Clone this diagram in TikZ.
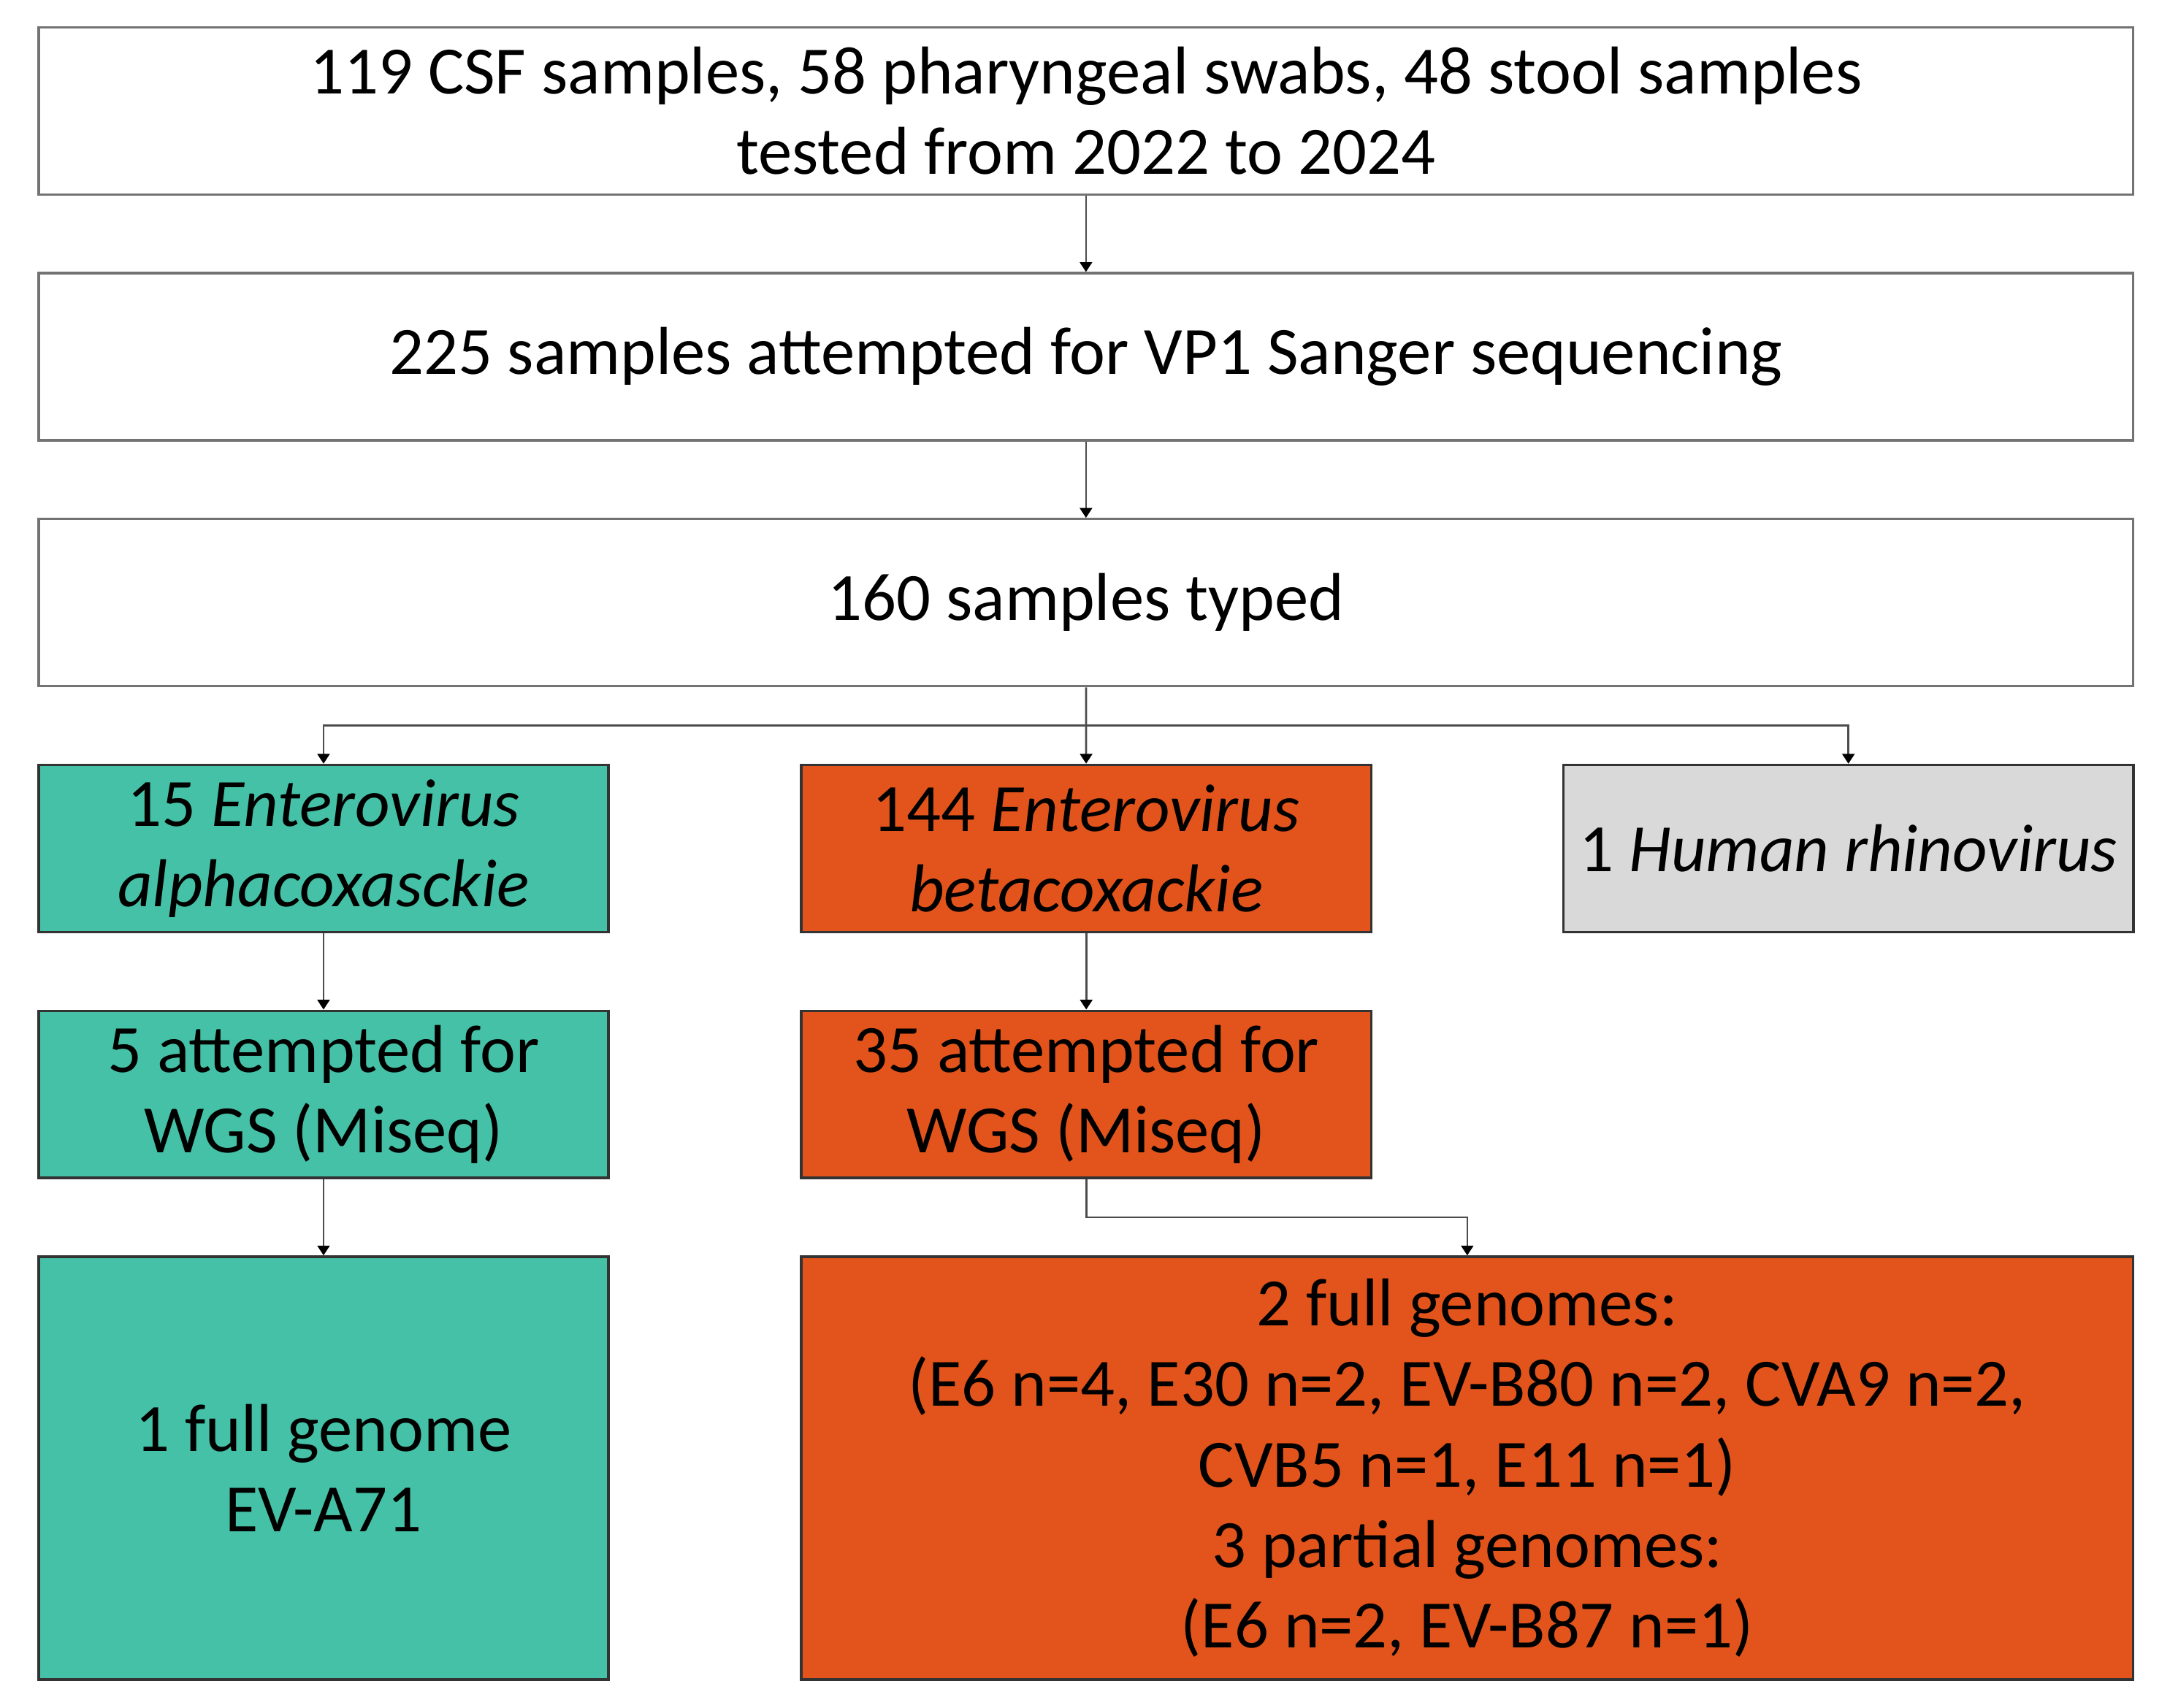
\documentclass[tikz,border=0pt]{standalone}
\usepackage{fontspec}
\setmainfont{Carlito}
\usetikzlibrary{arrows.meta}
\definecolor{evteal}{RGB}{68,193,166}
\definecolor{evorange}{RGB}{226,84,27}
\definecolor{hrvgray}{RGB}{217,217,217}
\begin{document}
\begin{tikzpicture}[x=0.02cm, y=-0.02cm,
    box/.style={draw=black!55, line width=1pt, inner sep=0pt, align=center,
        font=\fontsize{27.7}{33}\selectfont},
    widebox/.style={box, minimum width=30.12cm, minimum height=2.404cm},
    smallbox/.style={box, draw=black!80, minimum width=8.196cm, minimum height=2.404cm},
    flow/.style={draw=black!70, line width=0.8pt, -{Triangle[width=5pt,length=4pt,black]}}]

    \useasboundingbox (0,0) rectangle (1560,1228);

    \node[widebox] (tested) at (780.7,79.7)
        {119 CSF samples, 58 pharyngeal swabs, 48 stool samples\\tested from 2022 to 2024};
    \node[widebox] (sanger) at (780.7,256.5)
        {225 samples attempted for VP1 Sanger sequencing};
    \node[widebox] (typed) at (780.7,433.3) {160 samples typed};

    \node[smallbox, fill=evteal] (alpha) at (232.6,610.1)
        {15 \textit{Enterovirus}\\\textit{alphacoxasckie}};
    \node[smallbox, fill=evorange] (beta) at (780.9,610.1)
        {144 \textit{Enterovirus}\\\textit{betacoxackie}};
    \node[smallbox, fill=hrvgray] (rhino) at (1328.8,610.1)
        {1 \textit{Human rhinovirus}};

    \node[smallbox, fill=evteal] (alphawgs) at (232.6,786.9)
        {5 attempted for\\WGS (Miseq)};
    \node[smallbox, fill=evorange] (betawgs) at (780.9,786.9)
        {35 attempted for\\WGS (Miseq)};

    \node[smallbox, fill=evteal, minimum height=6.082cm] (alphares) at (232.6,1055.6)
        {1 full genome\\EV-A71};
    \node[smallbox, fill=evorange, minimum width=19.154cm, minimum height=6.082cm] (betares) at (1054.8,1055.6)
        {2 full genomes:\\(E6 n=4, E30 n=2, EV-B80 n=2, CVA9 n=2,\\CVB5 n=1, E11 n=1)\\3 partial genomes:\\(E6 n=2, EV-B87 n=1)};

    \coordinate (split) at (780.7,521.7);
    \coordinate (bend) at (780.9,875.3);

    \draw[flow] (tested) -- (sanger);
    \draw[flow] (sanger) -- (typed);
    \draw[flow] (typed) -- (beta);
    \draw[flow] (split) -| (alpha.north);
    \draw[flow] (split) -| (rhino.north);
    \draw[flow] (alpha) -- (alphawgs);
    \draw[flow] (beta) -- (betawgs);
    \draw[flow] (alphawgs) -- (alphares);
    \draw[flow] (betawgs) -- (bend) -| (betares.north);

\end{tikzpicture}
\end{document}
